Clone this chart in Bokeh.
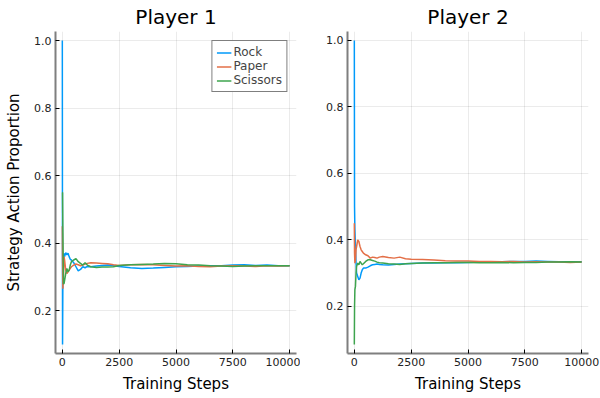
from bokeh.plotting import figure
from bokeh.layouts import row
from bokeh.models import FixedTicker, Range1d, Legend, LegendItem, NumeralTickFormatter
from bokeh.embed import file_html
from bokeh.resources import INLINE

steps = [0, 10, 25, 50, 75, 100, 150, 200, 250, 300, 350, 400, 500, 600, 700, 800, 900,
         1000, 1100, 1250, 1500, 1750, 2000, 2250, 2500, 3000, 3500, 4000, 4500, 5000,
         5500, 6000, 6500, 7000, 7500, 8000, 8500, 9000, 9500, 10000]

p1_rock = [1.0, 0.10, 0.30, 0.35, 0.37, 0.36, 0.372, 0.365, 0.37, 0.36, 0.352, 0.35, 0.342,
           0.33, 0.318, 0.322, 0.33, 0.327, 0.331, 0.33, 0.332, 0.334, 0.335, 0.333, 0.331,
           0.327, 0.325, 0.326, 0.328, 0.33, 0.331, 0.332, 0.333, 0.333, 0.335, 0.336, 0.334,
           0.335, 0.333, 0.333]
p1_paper = [0.45, 0.35, 0.265, 0.30, 0.36, 0.35, 0.32, 0.31, 0.315, 0.32, 0.325, 0.33, 0.335,
            0.338, 0.336, 0.333, 0.335, 0.338, 0.34, 0.342, 0.341, 0.34, 0.339, 0.336, 0.334,
            0.336, 0.337, 0.336, 0.334, 0.332, 0.333, 0.331, 0.33, 0.332, 0.333, 0.332, 0.331,
            0.333, 0.332, 0.333]
p1_scissors = [0.55, 0.55, 0.43, 0.28, 0.28, 0.29, 0.31, 0.325, 0.315, 0.32, 0.335, 0.345, 0.35,
               0.354, 0.345, 0.34, 0.335, 0.342, 0.335, 0.33, 0.328, 0.329, 0.329, 0.33, 0.334,
               0.336, 0.337, 0.338, 0.34, 0.339, 0.336, 0.335, 0.333, 0.332, 0.331, 0.332, 0.333,
               0.333, 0.333, 0.333]

p2_rock = [1.0, 0.50, 0.43, 0.38, 0.33, 0.30, 0.29, 0.28, 0.285, 0.30, 0.31, 0.315, 0.315,
           0.318, 0.322, 0.325, 0.326, 0.327, 0.326, 0.325, 0.324, 0.326, 0.327, 0.328, 0.329,
           0.33, 0.33, 0.331, 0.331, 0.332, 0.333, 0.334, 0.334, 0.335, 0.335, 0.336, 0.335,
           0.334, 0.334, 0.334]
p2_paper = [0.45, 0.36, 0.33, 0.34, 0.37, 0.38, 0.40, 0.395, 0.38, 0.37, 0.365, 0.36, 0.355,
            0.352, 0.345, 0.348, 0.347, 0.345, 0.348, 0.35, 0.347, 0.345, 0.348, 0.343, 0.342,
            0.341, 0.339, 0.337, 0.336, 0.336, 0.335, 0.335, 0.334, 0.335, 0.333, 0.334, 0.333,
            0.333, 0.332, 0.333]
p2_scissors = [0.085, 0.20, 0.25, 0.26, 0.30, 0.32, 0.33, 0.325, 0.335, 0.33, 0.325, 0.328, 0.335,
               0.34, 0.34, 0.338, 0.336, 0.333, 0.331, 0.33, 0.328, 0.327, 0.326, 0.328, 0.329,
               0.33, 0.331, 0.331, 0.332, 0.332, 0.331, 0.331, 0.332, 0.331, 0.332, 0.332, 0.333,
               0.333, 0.334, 0.333]

labels = ["Rock", "Paper", "Scissors"]
colors = ["#009AFA", "#E36F47", "#3EA44E"]
x_ticks = [0, 2500, 5000, 7500, 10000]
y_ticks = [0.2, 0.4, 0.6, 0.8, 1.0]

FONT = "DejaVu Sans"


def make_fig(title, series, y_range, ylabel, legend, bl, br):
    p = figure(width=300, height=398, output_backend="svg", toolbar_location=None,
               x_range=Range1d(-300, 10300), y_range=Range1d(*y_range),
               min_border_left=bl, min_border_right=br, min_border_top=29,
               min_border_bottom=45)
    p.title.text = title
    p.title.align = "center"
    p.title.text_font = FONT
    p.title.text_font_size = "20px"
    p.title.text_font_style = "normal"
    p.title.text_color = "#000000"
    p.title.standoff = 5
    p.outline_line_color = None
    renderers = []
    for ys, c in zip(series, colors):
        r = p.line(steps, ys, color=c, line_width=1.5)
        renderers.append(r)
    for ax in (p.xaxis[0], p.yaxis[0]):
        ax.axis_line_color = "#7f7f7f"
        ax.axis_line_width = 2
        ax.major_tick_in = 4
        ax.major_tick_out = 0
        ax.major_tick_line_color = "#000000"
        ax.minor_tick_line_color = None
        ax.major_label_text_font = FONT
        ax.major_label_text_font_size = "11px"
        ax.major_label_text_color = "#222222"
        ax.major_label_standoff = 4
        ax.axis_label_text_font = FONT
        ax.axis_label_text_font_size = "15px"
        ax.axis_label_text_font_style = "normal"
        ax.axis_label_text_color = "#000000"
        ax.axis_label_standoff = 5
    p.yaxis.axis_label_standoff = 8
    p.xaxis.axis_label_standoff = 6
    p.xaxis.ticker = FixedTicker(ticks=x_ticks)
    p.yaxis.ticker = FixedTicker(ticks=y_ticks)
    p.yaxis.formatter = NumeralTickFormatter(format="0.0")
    p.xaxis.formatter = NumeralTickFormatter(format="0")
    p.xaxis.axis_label = "Training Steps"
    if ylabel:
        p.yaxis.axis_label = ylabel
    p.grid.grid_line_color = "#000000"
    p.grid.grid_line_alpha = 0.08
    if legend:
        lg = Legend(items=[LegendItem(label=l, renderers=[r]) for l, r in zip(labels, renderers)],
                    location="top_right")
        lg.label_text_font = FONT
        lg.label_text_font_size = "12px"
        lg.border_line_color = "#000000"
        lg.border_line_width = 1
        lg.glyph_width = 15
        lg.glyph_height = 13
        lg.label_height = 13
        lg.spacing = 0
        lg.padding = 4
        lg.margin = 9
        lg.label_standoff = 2
        p.add_layout(lg)
    return p


f1 = make_fig("Player 1", [p1_rock, p1_paper, p1_scissors], (0.073, 1.027),
              "Strategy Action Proportion", True, 55, 4)
f2 = make_fig("Player 2", [p2_rock, p2_paper, p2_scissors], (0.058, 1.027), None, False, 47, 12)

layout = row(f1, f2)
open("out.html", "w").write(file_html(layout, INLINE))
